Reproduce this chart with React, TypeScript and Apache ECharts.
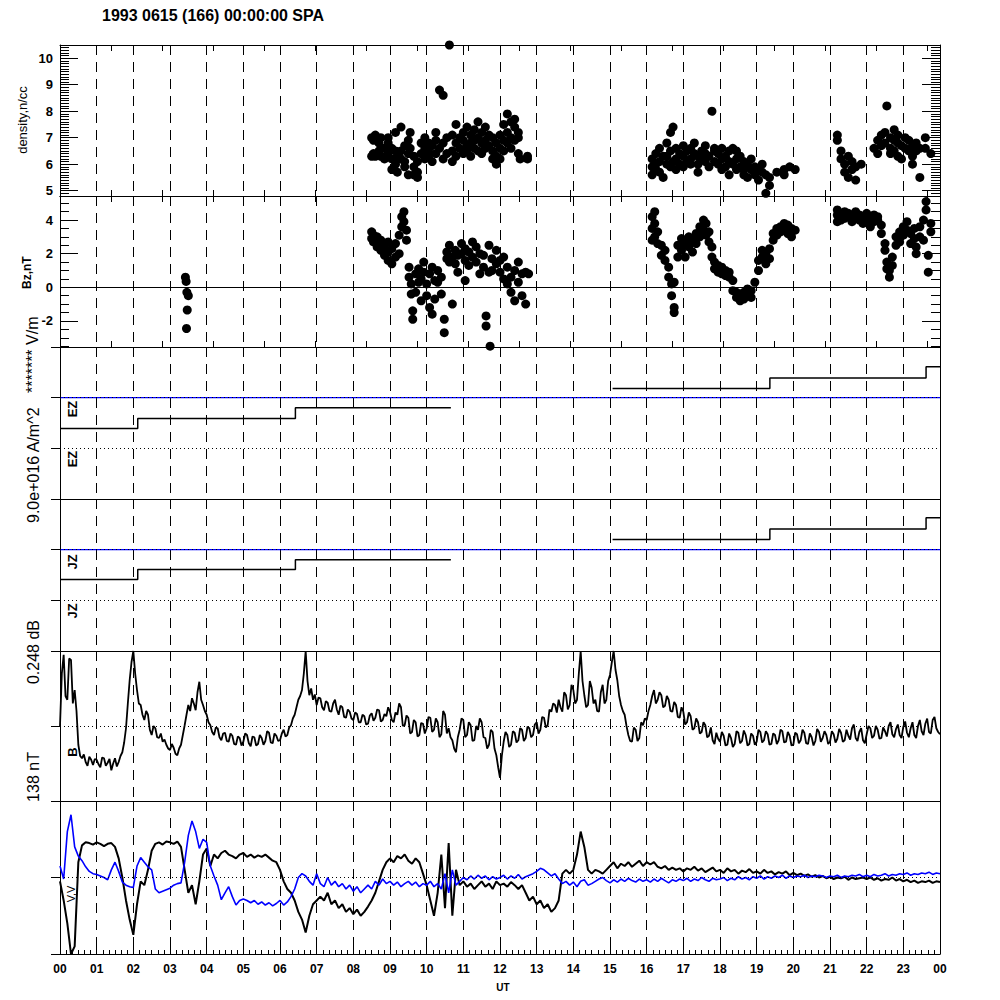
import React, { useEffect, useRef } from "react";
import * as echarts from "echarts";

const TITLE = "1993 0615 (166) 00:00:00 SPA";
const HOUR_LABELS = ["00","01","02","03","04","05","06","07","08","09","10","11","12","13","14","15","16","17","18","19","20","21","22","23","00"];

// Density (n/cc) scatter: [UT hour, value]
const densityPoints: [number, number][] = [
  [8.50,7.0],[8.50,6.3],[8.55,6.9],[8.55,6.4],[8.60,7.1],[8.60,6.3],[8.70,6.8],[8.70,6.5],[8.75,6.3],[8.75,7.0],
  [8.85,6.6],[8.85,6.2],[8.95,6.4],[8.95,6.8],[8.95,7.0],[9.05,6.2],[9.05,6.6],[9.05,5.8],[9.15,6.5],[9.15,6.0],
  [9.15,7.2],[9.20,5.7],[9.20,6.3],[9.30,7.4],[9.30,6.5],[9.30,6.2],[9.40,6.7],[9.40,6.1],[9.40,5.9],[9.50,6.9],
  [9.50,6.4],[9.50,5.6],[9.55,7.2],[9.55,6.6],[9.65,5.6],[9.65,5.9],[9.65,6.3],[9.75,5.5],[9.75,6.1],[9.75,5.7],
  [9.85,6.4],[9.85,6.8],[9.95,6.6],[9.95,6.2],[9.95,7.0],[10.05,6.8],[10.05,6.5],[10.05,6.3],[10.15,6.7],[10.15,6.1],
  [10.25,6.4],[10.25,7.2],[10.25,6.9],[10.35,8.8],[10.35,6.6],[10.45,8.6],[10.45,6.2],[10.45,6.8],[10.55,7.0],[10.55,6.4],
  [10.62,10.5],[10.70,6.5],[10.70,7.1],[10.70,6.1],[10.80,7.5],[10.80,6.8],[10.80,6.3],[10.90,6.6],[10.90,7.0],[11.00,6.9],
  [11.00,6.4],[11.00,7.2],[11.10,6.7],[11.10,7.4],[11.10,6.5],[11.20,6.8],[11.20,7.1],[11.20,6.3],[11.30,7.3],[11.30,6.6],
  [11.30,6.9],[11.40,7.0],[11.40,6.5],[11.40,7.6],[11.50,6.8],[11.50,7.2],[11.50,6.4],[11.60,6.9],[11.60,7.4],[11.60,6.6],
  [11.70,7.1],[11.70,6.7],[11.80,6.5],[11.80,7.0],[11.80,6.2],[11.90,6.3],[11.90,6.8],[11.90,6.0],[12.00,6.6],[12.00,7.1],
  [12.00,6.2],[12.10,6.9],[12.10,7.5],[12.10,6.5],[12.20,7.2],[12.20,7.9],[12.20,6.8],[12.30,7.0],[12.30,7.6],[12.30,6.6],
  [12.40,7.4],[12.40,6.9],[12.40,7.7],[12.50,7.2],[12.50,6.4],[12.50,7.0],[12.55,6.2],[12.75,6.2],[12.75,6.3],
  [16.15,5.9],[16.15,6.2],[16.15,5.6],[16.25,5.8],[16.25,6.4],[16.25,6.0],[16.35,6.1],[16.35,5.7],[16.35,6.6],[16.45,5.5],
  [16.45,6.3],[16.55,6.0],[16.55,6.8],[16.55,6.3],[16.65,7.2],[16.65,6.5],[16.65,5.9],[16.72,7.4],[16.72,6.1],[16.80,6.2],
  [16.80,6.6],[16.80,5.8],[16.90,6.4],[16.90,6.0],[17.00,6.3],[17.00,6.7],[17.00,5.9],[17.10,6.1],[17.10,6.5],[17.20,6.6],
  [17.20,6.2],[17.20,6.0],[17.30,6.4],[17.30,6.8],[17.40,6.0],[17.40,6.3],[17.40,5.7],[17.50,6.5],[17.50,6.2],[17.60,6.7],
  [17.60,6.1],[17.60,6.4],[17.70,6.3],[17.70,5.9],[17.78,8.0],[17.85,6.5],[17.85,6.1],[17.85,6.6],[17.95,6.4],[17.95,6.0],
  [18.05,6.2],[18.05,6.6],[18.05,5.8],[18.15,5.9],[18.15,6.3],[18.25,6.5],[18.25,6.1],[18.25,5.6],[18.35,6.6],[18.35,6.0],
  [18.45,6.2],[18.45,5.8],[18.45,6.5],[18.55,5.9],[18.55,6.3],[18.65,5.6],[18.65,6.1],[18.65,5.8],[18.75,6.0],[18.75,5.5],
  [18.85,5.8],[18.85,6.2],[18.95,5.6],[18.95,5.9],[19.05,5.4],[19.05,5.8],[19.15,5.7],[19.15,6.0],[19.25,4.9],[19.25,5.6],
  [19.35,5.5],[19.35,5.2],[19.55,5.7],[19.75,5.8],[19.75,5.6],[19.90,5.9],[20.05,5.8],
  [21.20,7.1],[21.20,6.9],[21.30,6.5],[21.30,6.2],[21.40,6.0],[21.40,5.7],[21.50,6.3],[21.50,5.5],[21.60,5.8],[21.60,6.1],
  [21.70,5.4],[21.70,5.9],[21.85,6.0],[22.20,6.6],[22.30,6.9],[22.30,6.4],[22.40,7.1],[22.40,6.7],[22.50,6.8],[22.50,7.2],
  [22.55,8.2],[22.65,7.0],[22.65,6.6],[22.65,6.4],[22.75,7.3],[22.75,6.9],[22.75,6.5],[22.85,6.8],[22.85,7.1],[22.85,6.3],
  [22.95,6.7],[22.95,6.2],[23.05,6.6],[23.05,7.0],[23.15,6.9],[23.15,6.5],[23.25,6.3],[23.25,6.7],[23.25,6.0],[23.35,6.5],
  [23.35,6.8],[23.45,5.5],[23.45,6.6],[23.60,7.0],[23.60,6.6],[23.75,6.4]
];

// Bz (nT) scatter: [UT hour, value]
const bzPoints: [number, number][] = [
  [3.42,0.6],[3.44,0.35],[3.46,-0.3],[3.50,-0.5],[3.47,-1.35],[3.45,-2.45],
  [8.50,3.3],[8.50,2.9],[8.55,3.1],[8.55,2.7],[8.65,3.0],[8.65,2.6],[8.65,2.4],[8.75,2.8],[8.75,2.2],[8.85,1.9],
  [8.85,2.5],[8.95,1.6],[8.95,2.1],[8.95,2.7],[9.05,1.4],[9.05,2.3],[9.15,1.8],[9.15,2.6],[9.25,3.1],[9.25,2.0],
  [9.32,3.6],[9.32,4.2],[9.38,4.5],[9.38,3.9],[9.45,3.4],[9.45,2.8],[9.52,1.2],[9.52,0.6],[9.58,0.2],[9.58,-0.4],
  [9.62,-1.4],[9.62,-1.9],[9.70,0.8],[9.70,-0.3],[9.78,1.1],[9.78,0.3],[9.85,-0.8],[9.85,0.5],[9.92,1.5],[9.92,0.9],
  [10.00,-0.5],[10.00,0.2],[10.08,-1.2],[10.08,0.8],[10.15,-1.6],[10.15,1.2],[10.22,0.4],[10.22,-0.7],[10.30,1.0],[10.30,0.3],
  [10.40,-0.4],[10.40,0.6],[10.48,-1.9],[10.48,-2.7],[10.55,1.7],[10.55,2.1],[10.62,2.5],[10.62,1.5],[10.70,1.8],[10.70,-1.0],
  [10.78,2.2],[10.78,1.4],[10.85,0.9],[10.85,1.9],[10.95,2.6],[10.95,2.0],[11.05,1.6],[11.05,2.3],[11.05,0.4],[11.15,2.1],
  [11.15,1.3],[11.25,2.7],[11.25,1.8],[11.35,1.5],[11.35,2.4],[11.45,0.8],[11.45,2.0],[11.55,1.9],[11.55,1.2],[11.62,-1.7],
  [11.62,-2.3],[11.70,0.9],[11.70,2.5],[11.73,-3.5],[11.78,1.7],[11.78,1.0],[11.90,1.4],[11.90,2.2],[12.00,0.9],[12.00,1.6],
  [12.10,1.8],[12.10,0.5],[12.20,1.2],[12.20,0.2],[12.30,0.6],[12.30,-0.3],[12.40,1.0],[12.40,-0.8],[12.50,0.3],[12.50,1.5],
  [12.60,-0.5],[12.60,0.8],[12.70,0.9],[12.70,-1.0],[12.78,0.8],
  [16.15,3.5],[16.15,4.2],[16.15,2.8],[16.22,4.5],[16.22,3.8],[16.22,3.0],[16.30,2.6],[16.30,3.3],[16.40,1.9],[16.40,2.5],
  [16.50,2.2],[16.50,1.6],[16.60,1.2],[16.60,0.6],[16.68,0.2],[16.68,-0.5],[16.75,-1.2],[16.75,-1.5],[16.75,0.3],[16.85,1.8],
  [16.85,2.5],[16.95,2.2],[16.95,2.9],[17.05,1.8],[17.05,2.6],[17.15,2.4],[17.15,3.0],[17.25,2.1],[17.25,2.8],[17.35,2.6],
  [17.35,3.2],[17.45,3.0],[17.45,3.6],[17.55,3.4],[17.55,4.0],[17.62,3.8],[17.62,3.1],[17.70,3.3],[17.70,2.7],[17.78,2.4],
  [17.78,1.8],[17.85,1.5],[17.85,1.1],[17.95,0.9],[17.95,1.3],[18.05,0.8],[18.05,1.2],[18.15,0.7],[18.15,1.0],[18.25,0.9],
  [18.25,0.6],[18.35,0.4],[18.35,-0.2],[18.45,-0.3],[18.45,-0.6],[18.55,-0.4],[18.55,-0.8],[18.65,-0.7],[18.65,-0.3],[18.75,-0.5],
  [18.75,-0.1],[18.85,-0.2],[18.85,-0.6],[18.95,0.3],[19.05,1.0],[19.05,1.6],[19.15,1.8],[19.15,2.2],[19.25,1.4],[19.25,2.0],
  [19.35,2.3],[19.35,1.7],[19.45,2.8],[19.45,3.2],[19.55,3.1],[19.55,3.5],[19.65,3.6],[19.65,3.3],[19.75,3.4],[19.75,3.8],
  [19.85,3.7],[19.85,3.2],[19.95,3.5],[19.95,3.0],[20.05,3.4],
  [21.20,4.3],[21.20,4.6],[21.20,3.9],[21.30,4.4],[21.30,4.0],[21.40,4.5],[21.40,4.1],[21.50,4.2],[21.50,4.4],[21.60,4.3],
  [21.60,3.9],[21.70,4.5],[21.70,4.1],[21.80,4.0],[21.80,4.3],[21.90,4.2],[21.90,3.8],[22.00,4.4],[22.00,4.0],[22.10,4.1],
  [22.10,3.6],[22.20,4.3],[22.20,3.9],[22.30,4.0],[22.30,4.2],[22.40,3.2],[22.40,3.7],[22.50,2.6],[22.50,2.2],[22.55,1.5],
  [22.55,1.1],[22.62,0.6],[22.62,1.0],[22.70,1.3],[22.70,1.8],[22.80,2.5],[22.80,3.0],[22.90,3.3],[22.90,2.7],[23.00,3.6],
  [23.00,3.1],[23.10,3.9],[23.10,3.4],[23.20,3.2],[23.20,2.6],[23.30,3.5],[23.30,2.9],[23.35,2.0],[23.35,2.4],[23.45,3.0],
  [23.45,3.6],[23.55,4.0],[23.55,2.8],[23.62,4.6],[23.62,5.1],[23.68,1.9],[23.68,0.9],[23.75,3.8],[23.75,3.3]
];

// EZ / JZ staircase levels (panel units; 2 = reference line)
const ezHours1 = [0, 2.12, 6.42, 10.66];
const ezLevels1 = [1.39, 1.59, 1.80, 1.80];
const ezHours2 = [15.07, 19.36, 23.62, 24];
const ezLevels2 = [2.18, 2.39, 2.61, 2.61];
const jzHours1 = [0, 2.12, 6.42, 10.66];
const jzLevels1 = [1.41, 1.61, 1.80, 1.80];
const jzHours2 = [15.07, 19.36, 23.62, 24];
const jzLevels2 = [2.20, 2.41, 2.63, 2.63];
const REF_LEVEL = 2; // blue reference level in EZ/JZ panels
const REF_HOURS = [0, 24];

// |B| trace sampled every 0.05 h (panel units 0..2), one row per hour
const B_STEP_H = 0.05;
const bValues = [
  1.0,1.7,1.95,1.4,1.35,1.9,1.88,1.3,1.48,1.2,0.75,0.6,0.57,0.62,0.52,0.47,0.59,0.55,0.48,0.56,
  0.55,0.49,0.45,0.58,0.57,0.47,0.51,0.56,0.41,0.5,0.57,0.46,0.52,0.6,0.65,0.78,0.97,1.3,1.61,1.85,
  2.0,1.7,1.48,1.3,1.28,1.15,1.08,1.2,1.15,0.95,0.88,1.0,0.97,0.85,0.84,0.9,0.79,0.82,0.75,0.7,
  0.68,0.76,0.71,0.63,0.61,0.7,0.75,0.88,1.01,1.15,1.28,1.2,1.37,1.3,1.21,1.45,1.59,1.35,1.28,1.2,
  1.15,1.05,1.01,0.92,0.88,0.98,0.97,0.85,0.81,0.9,0.91,0.8,0.79,0.9,0.87,0.76,0.75,0.86,0.84,0.74,
  0.79,0.9,0.88,0.77,0.73,0.86,0.85,0.74,0.76,0.88,0.84,0.75,0.80,0.93,0.91,0.78,0.77,0.9,0.87,0.8,
  0.81,0.9,0.95,0.86,0.88,0.98,1.01,1.1,1.15,1.25,1.35,1.4,1.48,1.7,2.0,1.6,1.41,1.5,1.35,1.42,
  1.28,1.38,1.37,1.25,1.21,1.33,1.31,1.2,1.19,1.3,1.35,1.22,1.15,1.27,1.25,1.12,1.11,1.22,1.19,1.1,
  1.08,1.18,1.16,1.05,1.05,1.15,1.13,1.02,1.03,1.14,1.17,1.07,1.11,1.22,1.21,1.06,1.08,1.16,1.13,1.25,
  1.19,1.08,1.05,1.18,1.15,1.3,1.25,1.0,1.01,1.14,1.11,0.9,0.92,1.08,1.05,0.86,0.88,1.04,1.03,0.9,
  0.97,1.12,1.11,0.92,0.95,1.1,1.05,0.85,0.89,1.2,1.15,0.9,0.97,0.85,0.81,0.7,0.65,0.85,0.95,1.1,
  1.08,0.85,0.88,1.05,1.01,0.8,0.81,1.0,0.95,1.1,1.05,0.85,0.84,0.7,0.75,0.95,0.92,0.7,0.61,0.45,
  0.31,0.6,0.79,0.92,0.88,0.72,0.75,0.93,0.91,0.78,0.81,0.97,0.95,0.8,0.84,0.99,0.97,0.85,0.88,1.02,
  1.05,0.9,0.95,1.12,1.11,0.98,1.01,1.22,1.19,1.3,1.28,1.18,1.35,1.25,1.19,1.45,1.41,1.22,1.28,1.55,
  1.48,1.3,1.35,1.7,2.0,1.6,1.41,1.25,1.28,1.6,1.51,1.3,1.35,1.2,1.19,1.45,1.55,1.3,1.35,1.6,
  1.68,1.85,2.0,1.75,1.61,1.4,1.28,1.2,1.15,1.0,0.88,0.8,0.79,0.98,0.95,0.8,0.84,1.05,1.01,1.1,
  1.08,1.2,1.28,1.4,1.48,1.3,1.35,1.45,1.41,1.25,1.27,1.4,1.35,1.2,1.19,1.32,1.28,1.12,1.11,1.25,
  1.19,1.02,1.05,1.18,1.13,0.95,0.97,1.1,1.05,0.9,0.92,1.05,1.01,0.85,0.87,0.98,0.81,0.76,0.91,0.83,
  0.79,0.92,0.87,0.74,0.75,0.9,0.84,0.72,0.76,0.93,0.91,0.77,0.80,0.94,0.88,0.74,0.76,0.9,0.87,0.75,
  0.79,0.95,0.92,0.78,0.81,0.93,0.89,0.75,0.76,0.9,0.88,0.76,0.81,0.95,0.93,0.78,0.79,0.92,0.87,0.74,
  0.75,0.91,0.89,0.77,0.81,0.95,0.91,0.77,0.76,0.9,0.85,0.74,0.80,0.96,0.92,0.79,0.84,0.93,0.88,0.76,
  0.79,0.93,0.89,0.78,0.83,0.96,0.91,0.79,0.81,0.95,0.87,0.82,0.97,1.02,0.84,0.8,0.92,0.97,0.81,0.77,
  0.89,1.0,0.97,0.84,0.87,1.0,0.95,0.83,0.84,0.98,0.93,0.86,1.0,1.05,0.89,0.85,0.96,1.02,0.88,0.84,
  0.99,1.06,0.91,0.85,0.97,1.05,0.88,0.84,1.0,1.08,0.93,0.88,1.03,1.1,0.92,0.9,1.08,1.12,0.97,0.92,
  0.89
];

// Velocity components sampled every 0.1 h (panel units -1..1)
const V_STEP_H = 0.1;
const vBlack = [
  -0.05,-0.3,-0.6,-1.0,-0.9,0.2,0.42,0.46,0.45,0.43,
  0.46,0.44,0.41,0.44,0.45,0.40,0.25,0.0,-0.3,-0.55,
  -0.75,-0.35,-0.05,-0.1,0.1,0.35,0.44,0.46,0.43,0.47,
  0.46,0.44,0.47,0.40,0.1,-0.2,-0.1,-0.35,-0.05,0.3,
  0.38,0.15,0.3,0.25,0.32,0.35,0.3,0.28,0.25,0.3,
  0.32,0.27,0.3,0.26,0.29,0.27,0.3,0.26,0.22,0.2,
  0.1,-0.05,-0.15,-0.2,-0.3,-0.45,-0.55,-0.72,-0.5,-0.35,
  -0.3,-0.25,-0.3,-0.2,-0.35,-0.3,-0.4,-0.35,-0.45,-0.4,
  -0.48,-0.42,-0.5,-0.45,-0.38,-0.3,-0.2,-0.05,0.1,0.2,
  0.25,0.2,0.28,0.25,0.3,0.22,0.18,0.25,0.2,0.05,
  -0.1,-0.3,-0.5,-0.2,0.3,-0.4,0.45,-0.5,0.1,-0.1,
  -0.05,-0.12,-0.08,-0.15,-0.1,-0.05,-0.12,-0.08,-0.15,-0.05,
  -0.1,-0.08,-0.12,-0.06,-0.1,-0.15,-0.1,-0.2,-0.3,-0.25,
  -0.35,-0.3,-0.4,-0.35,-0.45,-0.4,-0.3,0.05,0.1,0.05,
  0.1,0.3,0.6,0.4,0.1,0.05,0.1,0.08,0.05,0.1,
  0.15,0.2,0.12,0.18,0.15,0.2,0.14,0.18,0.22,0.15,
  0.2,0.17,0.2,0.14,0.12,0.15,0.1,0.13,0.1,0.12,
  0.08,0.12,0.1,0.14,0.09,0.12,0.07,0.1,0.13,0.08,
  0.1,0.06,0.12,0.08,0.1,0.05,0.09,0.07,0.11,0.06,
  0.08,0.05,0.1,0.06,0.08,0.04,0.07,0.05,0.08,0.03,
  0.06,0.03,0.05,0.02,0.04,0.01,0.03,0.0,0.02,-0.01,
  0.01,-0.02,0.0,-0.01,0.01,-0.03,0.0,-0.02,-0.01,0.0,
  -0.02,0.0,-0.03,-0.01,-0.04,-0.02,-0.03,0.0,-0.04,-0.02,
  -0.05,-0.03,-0.06,-0.04,-0.07,-0.05,-0.06,-0.04,-0.07,-0.05,
  -0.06
];
const vBlue = [
  0.15,-0.02,0.6,0.82,0.4,0.28,0.22,0.14,0.08,0.05,
  0.04,0.02,0.0,-0.03,0.1,0.2,0.08,-0.06,-0.1,-0.12,
  -0.13,0.15,0.26,0.2,0.14,0.1,-0.15,-0.2,-0.18,-0.16,
  -0.14,-0.1,-0.08,-0.07,0.2,0.55,0.74,0.6,0.38,0.5,
  0.46,0.15,0.02,-0.1,-0.29,-0.2,-0.12,-0.25,-0.36,-0.3,
  -0.28,-0.3,-0.33,-0.3,-0.35,-0.32,-0.36,-0.33,-0.37,-0.34,
  -0.3,-0.36,-0.32,-0.25,-0.15,0.0,0.05,0.02,-0.05,-0.1,
  0.05,-0.08,-0.12,0.0,-0.1,-0.05,-0.12,-0.08,-0.15,-0.1,
  -0.18,-0.12,-0.2,-0.15,-0.1,-0.15,-0.05,-0.1,-0.02,-0.08,
  -0.05,-0.1,-0.06,-0.12,-0.08,-0.05,-0.1,-0.06,-0.12,-0.08,
  -0.1,-0.05,-0.12,-0.08,-0.15,0.05,-0.2,0.1,-0.1,-0.05,
  0.0,-0.03,0.02,-0.02,0.03,-0.01,0.02,-0.03,0.01,-0.02,
  0.0,0.03,-0.02,0.02,-0.01,0.04,-0.02,0.01,0.03,0.05,
  0.08,0.12,0.1,0.06,0.02,0.05,-0.02,-0.08,-0.05,-0.1,
  -0.06,-0.12,-0.05,-0.03,-0.1,-0.08,-0.05,-0.02,0.0,-0.04,
  -0.07,-0.03,-0.06,-0.02,-0.05,-0.01,-0.04,-0.06,-0.02,-0.05,
  -0.03,-0.06,-0.02,-0.05,-0.01,-0.04,-0.07,-0.03,-0.05,-0.02,
  -0.04,-0.01,-0.05,-0.02,-0.04,0.0,-0.03,-0.05,-0.01,-0.03,
  -0.02,0.0,-0.04,-0.01,-0.03,0.01,-0.02,0.0,-0.03,0.01,
  -0.01,0.02,-0.02,0.01,-0.01,0.02,0.0,0.03,-0.01,0.02,
  0.0,0.02,0.01,0.03,0.0,0.02,0.01,0.03,0.02,0.0,
  0.02,0.01,0.03,0.0,0.02,0.01,0.03,0.02,0.04,0.01,
  0.03,0.01,0.04,0.02,0.03,0.05,0.02,0.04,0.03,0.05,
  0.04,0.06,0.03,0.05,0.04,0.06,0.05,0.07,0.04,0.06,
  0.05
];

// Axis tick values
const densityMajor = [5, 6, 7, 8, 9, 10];
const bzMajor = [-2, 0, 2, 4];
const FONT = '"Liberation Sans", Arial, sans-serif';

function tickRange(from: number, to: number, step: number): number[] {
  const out: number[] = [];
  for (let k = 0; from + k * step <= to + 1e-9; k++) out.push(Math.round((from + k * step) * 1000) / 1000);
  return out;
}

const PANELS = [
  { top: 45, height: 151, min: 4.8, max: 10.5 },
  { top: 196, height: 151, min: -3.55, max: 5.43 },
  { top: 347, height: 152, min: 0, max: 3 },
  { top: 499, height: 152, min: 0, max: 3 },
  { top: 651, height: 150, min: 0, max: 2 },
  { top: 801, height: 153, min: -1, max: 1 },
];

function buildOption() {
  const black = "#000";
  const blue = "#0000ff";
  const xAxis: any[] = [];
  const yAxis: any[] = [];
  const mainX: number[] = [];
  const mainY: number[] = [];

  PANELS.forEach((p, g) => {
    const base = { type: "value", gridIndex: g, min: 0, max: 24 };
    mainX.push(xAxis.length);
    xAxis.push({
      ...base, position: "bottom", interval: 1,
      axisLine: { show: false, onZero: false }, axisTick: { show: false }, axisLabel: { show: false },
      splitLine: { show: true, lineStyle: { color: black, width: 1, type: [10, 7] } },
    });
    const orbitTicks = g < 2;
    xAxis.push({
      ...base, position: "top", interval: orbitTicks ? 1.391 : 1,
      axisLine: { show: true, onZero: false, lineStyle: { color: black, width: 1 } },
      axisTick: { show: orbitTicks, inside: true, length: 6, lineStyle: { color: black } },
      axisLabel: { show: false }, splitLine: { show: false },
    });
    if (g === PANELS.length - 1) {
      xAxis.push({
        ...base, position: "bottom", interval: 1,
        axisLine: { show: true, onZero: false, lineStyle: { color: black, width: 1 } },
        axisTick: { show: true, inside: true, length: 8, lineStyle: { color: black } },
        minorTick: { show: true, splitNumber: 6, length: 4, lineStyle: { color: black } },
        axisLabel: {
          show: true, margin: 9, color: black, fontFamily: FONT, fontWeight: "bold", fontSize: 12,
          formatter: (v: number) => HOUR_LABELS[Math.round(v)] ?? "",
        },
        splitLine: { show: false },
      });
    } else {
      xAxis.push({
        ...base, position: "bottom", interval: orbitTicks ? 1.391 : 1,
        axisLine: { show: true, onZero: false, lineStyle: { color: black, width: 1 } },
        axisTick: { show: orbitTicks, inside: true, length: 6, lineStyle: { color: black } },
        axisLabel: { show: false }, splitLine: { show: false },
      });
    }

    const yb = { type: "value", gridIndex: g, min: p.min, max: p.max, splitLine: { show: false } };
    if (g < 2) {
      const major = g === 0 ? densityMajor : bzMajor;
      const minor = g === 0 ? tickRange(4.8, 10.5, 0.1) : tickRange(-3.5, 5.0, 0.5);
      mainY.push(yAxis.length);
      yAxis.push({
        ...yb, position: "left",
        axisLine: { show: true, onZero: false, lineStyle: { color: black, width: 1 } },
        axisTick: { show: true, inside: true, length: 18, customValues: major, lineStyle: { color: black } },
        axisLabel: { show: true, customValues: major, margin: 7, color: black, fontFamily: FONT, fontWeight: "bold", fontSize: 13 },
      });
      yAxis.push({
        ...yb, position: "left",
        axisLine: { show: false, onZero: false },
        axisTick: { show: true, inside: true, length: 9, customValues: minor, lineStyle: { color: black } },
        axisLabel: { show: false },
      });
      yAxis.push({
        ...yb, position: "right",
        axisLine: { show: true, onZero: false, lineStyle: { color: black, width: 1 } },
        axisTick: { show: true, inside: true, length: 18, customValues: major, lineStyle: { color: black } },
        axisLabel: { show: false },
      });
      yAxis.push({
        ...yb, position: "right",
        axisLine: { show: false, onZero: false },
        axisTick: { show: true, inside: true, length: 9, customValues: minor, lineStyle: { color: black } },
        axisLabel: { show: false },
      });
    } else {
      mainY.push(yAxis.length);
      yAxis.push({
        ...yb, position: "left", interval: 1,
        axisLine: { show: true, onZero: false, lineStyle: { color: black, width: 1 } },
        axisTick: { show: true, inside: false, length: 9, lineStyle: { color: black } },
        axisLabel: { show: false },
      });
      yAxis.push({
        ...yb, position: "right", interval: 1,
        axisLine: { show: true, onZero: false, lineStyle: { color: black, width: 1 } },
        axisTick: { show: false }, axisLabel: { show: false },
      });
    }
  });

  const ml = (data: any[]) => ({
    silent: true, symbol: ["none", "none"], label: { show: false }, animation: false, data,
  });
  const dotted = (v: number) => ({ yAxis: v, lineStyle: { color: black, width: 1, type: [1, 3] } });
  const pairs = (hs: number[], vs: number[]) => hs.map((h, i) => [h, vs[i]]);
  const refLine = (g: number) => ({
    type: "line", xAxisIndex: mainX[g], yAxisIndex: mainY[g], showSymbol: false, silent: true, z: 2,
    data: REF_HOURS.map((h) => [h, REF_LEVEL]), lineStyle: { color: blue, width: 1.2 },
  });

  const series: any[] = [
    {
      type: "scatter", xAxisIndex: mainX[0], yAxisIndex: mainY[0], data: densityPoints,
      symbol: "circle", symbolSize: 9, itemStyle: { color: black, opacity: 1 }, silent: true,
    },
    {
      type: "scatter", xAxisIndex: mainX[1], yAxisIndex: mainY[1], data: bzPoints,
      symbol: "circle", symbolSize: 9, itemStyle: { color: black, opacity: 1 }, silent: true,
      markLine: ml([{ yAxis: 0, lineStyle: { color: black, width: 1, type: "solid" } }]),
    },
    refLine(2),
    refLine(3),
    {
      type: "line", xAxisIndex: mainX[2], yAxisIndex: mainY[2], step: "end", showSymbol: false, z: 3,
      data: pairs(ezHours1, ezLevels1), lineStyle: { color: black, width: 1.5 },
    },
    {
      type: "line", xAxisIndex: mainX[2], yAxisIndex: mainY[2], step: "end", showSymbol: false, z: 4,
      data: pairs(ezHours2, ezLevels2), lineStyle: { color: black, width: 1.5 },
      markLine: ml([dotted(2), dotted(1)]),
    },
    {
      type: "line", xAxisIndex: mainX[3], yAxisIndex: mainY[3], step: "end", showSymbol: false, z: 3,
      data: pairs(jzHours1, jzLevels1), lineStyle: { color: black, width: 1.5 },
    },
    {
      type: "line", xAxisIndex: mainX[3], yAxisIndex: mainY[3], step: "end", showSymbol: false, z: 4,
      data: pairs(jzHours2, jzLevels2), lineStyle: { color: black, width: 1.5 },
      markLine: ml([dotted(2), dotted(1)]),
    },
    {
      type: "line", xAxisIndex: mainX[4], yAxisIndex: mainY[4], showSymbol: false,
      data: bValues.map((v, i) => [i * B_STEP_H, v]), lineStyle: { color: black, width: 1.8 },
      markLine: ml([dotted(1)]),
    },
    {
      type: "line", xAxisIndex: mainX[5], yAxisIndex: mainY[5], showSymbol: false,
      data: vBlack.map((v, i) => [i * V_STEP_H, v]), lineStyle: { color: black, width: 2 },
      markLine: ml([dotted(0)]),
    },
    {
      type: "line", xAxisIndex: mainX[5], yAxisIndex: mainY[5], showSymbol: false,
      data: vBlue.map((v, i) => [i * V_STEP_H, v]), lineStyle: { color: blue, width: 1.6 },
    },
  ];

  const rot = Math.PI / 2;
  const txt = (text: string, x: number, y: number, font: string, align = "center") => ({
    type: "text", x, y, rotation: rot, silent: true,
    style: { text, fill: black, font, align, verticalAlign: "middle" },
  });
  const graphic: any[] = [
    { type: "text", x: 102, y: 15, silent: true, style: { text: TITLE, fill: black, font: `bold 16px ${FONT}`, align: "left", verticalAlign: "middle" } },
    txt("density,n/cc", 22, 120, `13px ${FONT}`),
    txt("Bz,nT", 27, 289, `bold 12px ${FONT}`, "left"),
    txt("******* V/m", 32, 393, `16px ${FONT}`, "left"),
    txt("9.0e+016 A/m^2", 33, 523, `16px ${FONT}`, "left"),
    txt("0.248 dB", 33, 652, `16px ${FONT}`),
    txt("138 nT", 33, 777, `16px ${FONT}`),
    txt("EZ", 72, 409, `bold 13px ${FONT}`),
    txt("EZ", 72, 459, `bold 13px ${FONT}`),
    txt("JZ", 72, 562, `bold 13px ${FONT}`),
    txt("JZ", 72, 611, `bold 13px ${FONT}`),
    txt("B", 72, 752, `bold 13px ${FONT}`),
    txt("V,V", 71, 894, `11px ${FONT}`),
    { type: "text", x: 503, y: 987, silent: true, style: { text: "UT", fill: black, font: `bold 10px ${FONT}`, align: "center", verticalAlign: "middle" } },
  ];

  return {
    animation: false,
    backgroundColor: "#ffffff",
    grid: PANELS.map((p) => ({ left: 60, width: 880, top: p.top, height: p.height, containLabel: false, outerBoundsMode: "none" })),
    xAxis, yAxis, series, graphic,
  };
}

export default function App() {
  const ref = useRef<HTMLDivElement>(null);
  useEffect(() => {
    document.body.style.margin = "0";
    if (!ref.current) return;
    const chart = echarts.init(ref.current, undefined, { renderer: "svg" });
    chart.setOption(buildOption() as any);
    return () => chart.dispose();
  }, []);
  return <div ref={ref} style={{ width: 1000, height: 1000 }} />;
}
